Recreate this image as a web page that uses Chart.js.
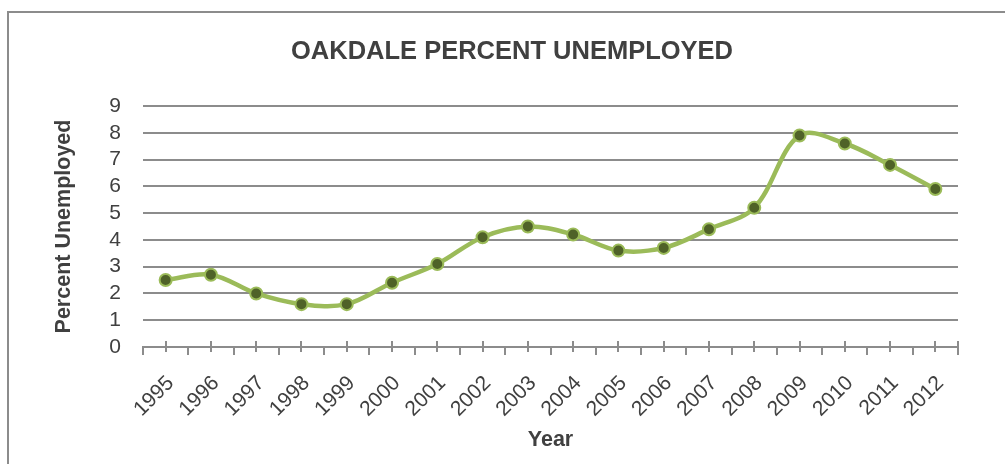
<!DOCTYPE html>
<html>
<head>
<meta charset="utf-8">
<script src="https://cdn.jsdelivr.net/npm/chart.js@4.4.1/dist/chart.umd.min.js"></script>
<style>
  html, body { margin: 0; padding: 0; background: #fff; overflow: hidden; }
  #wrap { position: relative; width: 1005px; height: 464px; overflow: hidden; }
  #frame {
    position: absolute; left: 7px; top: 11px; width: 1200px; height: 700px;
    border-left: 2px solid #8c8c8c; border-top: 2px solid #8c8c8c;
  }
  #chart { position: absolute; left: 0; top: 0; }
</style>
</head>
<body>
<div id="wrap">
  <div id="frame"></div>
  <canvas id="chart" width="1005" height="464"></canvas>
</div>
<script>
// dados do gráfico
const anos = ['1995', '1996', '1997', '1998', '1999', '2000', '2001', '2002', '2003',
  '2004', '2005', '2006', '2007', '2008', '2009', '2010', '2011', '2012'];
const desemprego = [2.5, 2.7, 2.0, 1.6, 1.6, 2.4, 3.1, 4.1, 4.5,
  4.2, 3.6, 3.7, 4.4, 5.2, 7.9, 7.6, 6.8, 5.9];
const ticksY = [0, 1, 2, 3, 4, 5, 6, 7, 8, 9];

const titulo = 'OAKDALE PERCENT UNEMPLOYED';
const tituloY = 'Percent Unemployed';
const tituloX = 'Year';

const corTexto = '#404040';
const corGrade = '#8c8c8c';
const fonte = 'Liberation Sans, Arial, sans-serif';

// marcas que cruzam o eixo x em cada ponto
const marcasPontos = {
  id: 'marcasPontos',
  beforeDatasetsDraw(chart) {
    const x = chart.scales.x;
    const y0 = x.top;
    const ctx = chart.ctx;
    ctx.save();
    ctx.strokeStyle = corGrade;
    ctx.lineWidth = 2;
    ctx.beginPath();
    anos.forEach((a, i) => {
      const px = Math.round(x.getPixelForTick(i));
      ctx.moveTo(px, y0 - 6);
      ctx.lineTo(px, y0 + 5);
    });
    // fim do eixo
    ctx.moveTo(x.right, y0 - 6);
    ctx.lineTo(x.right, y0 + 7);
    ctx.stroke();
    ctx.restore();
  }
};

new Chart(document.getElementById('chart'), {
  type: 'line',
  data: {
    labels: anos,
    datasets: [{
      label: tituloY,
      data: desemprego,
      borderColor: '#9bbb59',
      borderWidth: 4.5,
      tension: 0.35,
      pointRadius: 6,
      pointBorderWidth: 2,
      pointBackgroundColor: '#4f6228',
      pointBorderColor: '#9bbb59'
    }]
  },
  options: {
    responsive: false,
    animation: false,
    layout: { padding: { left: 53, right: 34, top: 8, bottom: 0 } },
    plugins: {
      legend: { display: false },
      tooltip: { enabled: false },
      title: {
        display: true,
        text: titulo,
        color: corTexto,
        font: { family: fonte, size: 25.5, weight: 'bold', lineHeight: 1.2 },
        padding: { top: 29, bottom: 38.4 }
      }
    },
    scales: {
      x: {
        offset: true,
        grid: {
          drawOnChartArea: false,
          offset: true,
          color: corGrade,
          lineWidth: 2,
          tickLength: 8
        },
        border: { display: true, color: corGrade, width: 2 },
        ticks: {
          color: corTexto,
          autoSkip: false,
          minRotation: 45,
          maxRotation: 45,
          padding: 16,
          labelOffset: 5,
          font: { family: fonte, size: 21 }
        },
        title: {
          display: true,
          text: tituloX,
          color: corTexto,
          font: { family: fonte, size: 21.5, weight: 'bold', lineHeight: 1.2 },
          padding: { top: 0, bottom: 11 }
        },
        afterFit(scale) { scale.height = 117; }
      },
      y: {
        min: 0,
        max: 9,
        afterBuildTicks(scale) { scale.ticks = ticksY.map(v => ({ value: v })); },
        grid: { color: corGrade, lineWidth: 2, drawTicks: false },
        border: { display: false },
        ticks: {
          color: corTexto,
          autoSkip: false,
          padding: 22,
          font: { family: fonte, size: 21 }
        },
        title: {
          display: true,
          text: tituloY,
          color: corTexto,
          font: { family: fonte, size: 21.5, weight: 'bold', lineHeight: 1 },
          padding: { top: 0, bottom: 0 }
        },
        afterFit(scale) { scale.width = 90; }
      },
      // eixo vazio à direita, só para deixar espaço
      margem: {
        position: 'right',
        grid: { display: false },
        border: { display: false },
        ticks: { display: false },
        afterFit(scale) { scale.width = 13; }
      }
    }
  },
  plugins: [marcasPontos]
});
</script>
</body>
</html>
